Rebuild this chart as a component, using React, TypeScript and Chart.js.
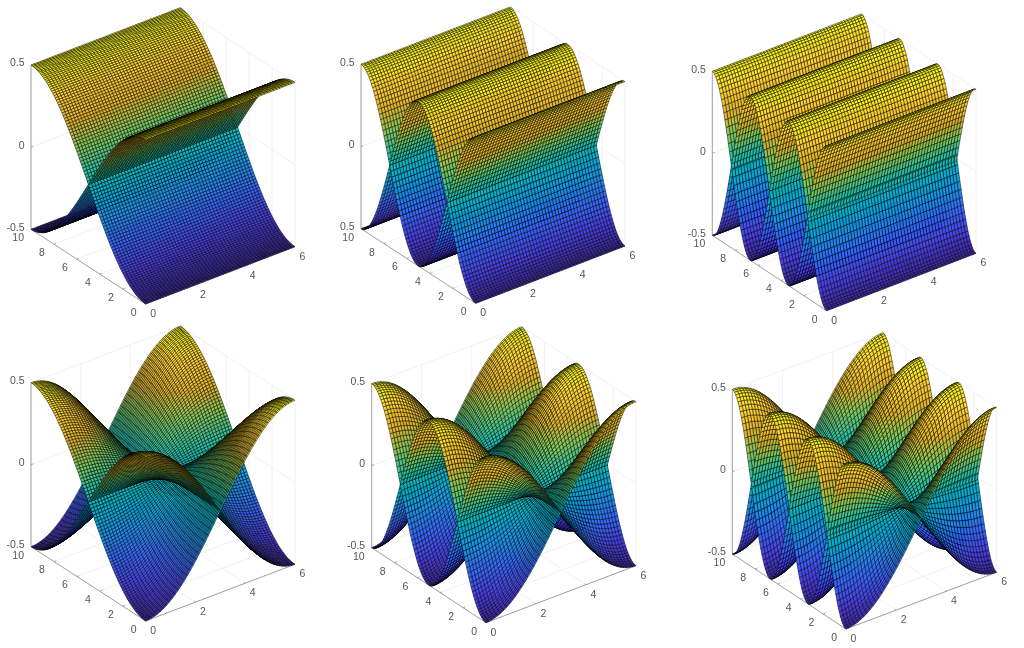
import React, { useEffect, useRef } from "react";
import { Chart, registerables } from "chart.js";

Chart.register(...registerables);

// Height of the upper sheet along y (one value per 0.1 of y), read per mode.
const waveY1 = [0.5,0.4998,0.499,0.4978,0.4961,0.4938,0.4911,0.488,0.4843,0.4801,0.4755,0.4704,0.4649,0.4589,0.4524,0.4455,0.4382,0.4304,0.4222,0.4136,0.4045,0.3951,0.3853,0.3751,0.3645,0.3536,0.3423,0.3307,0.3187,0.3065,0.2939,0.2811,0.2679,0.2545,0.2409,0.227,0.2129,0.1986,0.184,0.1694,0.1545,0.1395,0.1243,0.1091,0.0937,0.0782,0.0627,0.047,0.0314,0.0157,0,-0.0157,-0.0314,-0.047,-0.0627,-0.0782,-0.0937,-0.1091,-0.1243,-0.1395,-0.1545,-0.1694,-0.184,-0.1986,-0.2129,-0.227,-0.2409,-0.2545,-0.2679,-0.2811,-0.2939,-0.3065,-0.3187,-0.3307,-0.3423,-0.3536,-0.3645,-0.3751,-0.3853,-0.3951,-0.4045,-0.4136,-0.4222,-0.4304,-0.4382,-0.4455,-0.4524,-0.4589,-0.4649,-0.4704,-0.4755,-0.4801,-0.4843,-0.488,-0.4911,-0.4938,-0.4961,-0.4978,-0.499,-0.4998,-0.5];
const waveY2 = [0.5,0.499,0.4961,0.4911,0.4843,0.4755,0.4649,0.4524,0.4382,0.4222,0.4045,0.3853,0.3645,0.3423,0.3187,0.2939,0.2679,0.2409,0.2129,0.184,0.1545,0.1243,0.0937,0.0627,0.0314,0,-0.0314,-0.0627,-0.0937,-0.1243,-0.1545,-0.184,-0.2129,-0.2409,-0.2679,-0.2939,-0.3187,-0.3423,-0.3645,-0.3853,-0.4045,-0.4222,-0.4382,-0.4524,-0.4649,-0.4755,-0.4843,-0.4911,-0.4961,-0.499,-0.5,-0.499,-0.4961,-0.4911,-0.4843,-0.4755,-0.4649,-0.4524,-0.4382,-0.4222,-0.4045,-0.3853,-0.3645,-0.3423,-0.3187,-0.2939,-0.2679,-0.2409,-0.2129,-0.184,-0.1545,-0.1243,-0.0937,-0.0627,-0.0314,0,0.0314,0.0627,0.0937,0.1243,0.1545,0.184,0.2129,0.2409,0.2679,0.2939,0.3187,0.3423,0.3645,0.3853,0.4045,0.4222,0.4382,0.4524,0.4649,0.4755,0.4843,0.4911,0.4961,0.499,0.5];
const waveY3 = [0.5,0.4978,0.4911,0.4801,0.4649,0.4455,0.4222,0.3951,0.3645,0.3307,0.2939,0.2545,0.2129,0.1694,0.1243,0.0782,0.0314,-0.0157,-0.0627,-0.1091,-0.1545,-0.1986,-0.2409,-0.2811,-0.3187,-0.3536,-0.3853,-0.4136,-0.4382,-0.4589,-0.4755,-0.488,-0.4961,-0.4998,-0.499,-0.4938,-0.4843,-0.4704,-0.4524,-0.4304,-0.4045,-0.3751,-0.3423,-0.3065,-0.2679,-0.227,-0.184,-0.1395,-0.0937,-0.047,0,0.047,0.0937,0.1395,0.184,0.227,0.2679,0.3065,0.3423,0.3751,0.4045,0.4304,0.4524,0.4704,0.4843,0.4938,0.499,0.4998,0.4961,0.488,0.4755,0.4589,0.4382,0.4136,0.3853,0.3536,0.3187,0.2811,0.2409,0.1986,0.1545,0.1091,0.0627,0.0157,-0.0314,-0.0782,-0.1243,-0.1694,-0.2129,-0.2545,-0.2939,-0.3307,-0.3645,-0.3951,-0.4222,-0.4455,-0.4649,-0.4801,-0.4911,-0.4978,-0.5];

// Relative amplitude across x (one value per 0.12 of x).
const shapeXFlat = [1,1,1,1,1,1,1,1,1,1,1,1,1,1,1,1,1,1,1,1,1,1,1,1,1,1,1,1,1,1,1,1,1,1,1,1,1,1,1,1,1,1,1,1,1,1,1,1,1,1,1];
const shapeXHalf = [1,0.998,0.9921,0.9823,0.9686,0.9511,0.9298,0.9048,0.8763,0.8443,0.809,0.7705,0.729,0.6845,0.6374,0.5878,0.5358,0.4818,0.4258,0.3681,0.309,0.2487,0.1874,0.1253,0.0628,0,-0.0628,-0.1253,-0.1874,-0.2487,-0.309,-0.3681,-0.4258,-0.4818,-0.5358,-0.5878,-0.6374,-0.6845,-0.729,-0.7705,-0.809,-0.8443,-0.8763,-0.9048,-0.9298,-0.9511,-0.9686,-0.9823,-0.9921,-0.998,-1];

const xTicks = [0, 2, 4, 6];
const yTicks = [0, 2, 4, 6, 8, 10];
const zTicks = [-0.5, 0, 0.5];

const X_MAX = 6;
const Y_MAX = 10;
const X_STEP = 0.12;
const Y_STEP = 0.1;

const parulaStops = [
  [0.2422, 0.1504, 0.6603],
  [0.2803, 0.2482, 0.9221],
  [0.2, 0.3958, 0.9988],
  [0.104, 0.5602, 0.9218],
  [0.0, 0.6882, 0.8163],
  [0.1638, 0.7558, 0.6251],
  [0.5044, 0.7793, 0.348],
  [0.8834, 0.7006, 0.1596],
  [0.9992, 0.8136, 0.1885],
  [0.9869, 0.9839, 0.0805],
];

const layouts = [
  { left: 0, top: 0, width: 340, height: 324, near: [145.7, 304], right: [295, 246.7], back: [31, 229.3], topY: 65, waveY: waveY1, shapeX: shapeXFlat },
  { left: 340, top: 0, width: 340, height: 324, near: [475.7, 303.3], right: [625, 246], back: [361, 228.7], topY: 64.3, waveY: waveY2, shapeX: shapeXFlat },
  { left: 680, top: 0, width: 344, height: 324, near: [826.7, 310.7], right: [976, 253.3], back: [712.3, 235.3], topY: 71.3, waveY: waveY3, shapeX: shapeXFlat },
  { left: 0, top: 324, width: 340, height: 324, near: [145.7, 621], right: [295, 564.3], back: [31, 546.7], topY: 382.7, waveY: waveY1, shapeX: shapeXHalf },
  { left: 340, top: 324, width: 340, height: 324, near: [486, 622.7], right: [636, 565.7], back: [371.7, 547.7], topY: 383.7, waveY: waveY2, shapeX: shapeXHalf },
  { left: 680, top: 324, width: 344, height: 324, near: [846, 629], right: [996.7, 572.3], back: [732.3, 554], topY: 389.3, waveY: waveY3, shapeX: shapeXHalf },
];

type Layout = (typeof layouts)[number];

function parula(z: number) {
  const t = Math.max(0, Math.min(1, z + 0.5)) * (parulaStops.length - 1);
  const i = Math.min(parulaStops.length - 2, Math.floor(t));
  const f = t - i;
  const c = parulaStops[i].map((v, k) => Math.round(255 * (v + (parulaStops[i + 1][k] - v) * f)));
  return `rgb(${c[0]},${c[1]},${c[2]})`;
}

function makeProjector(p: Layout) {
  const ax = [p.right[0] - p.near[0], p.right[1] - p.near[1]];
  const ay = [p.back[0] - p.near[0], p.back[1] - p.near[1]];
  const hz = p.topY - p.back[1];
  const a = [ax[0], ay[0], 0];
  const b = [ax[1], ay[1], hz];
  const d = [a[1] * b[2] - a[2] * b[1], a[2] * b[0] - a[0] * b[2], a[0] * b[1] - a[1] * b[0]];
  return (x: number, y: number, z: number) => {
    const t = x / X_MAX;
    const s = y / Y_MAX;
    const h = z + 0.5;
    return {
      x: p.near[0] + t * ax[0] + s * ay[0] - p.left,
      y: p.near[1] + t * ax[1] + s * ay[1] + h * hz - p.top,
      depth: d[0] * t + d[1] * s + d[2] * h,
    };
  };
}

function segments(list: number[][][], project: ReturnType<typeof makeProjector>) {
  const out: { x: number; y: number }[] = [];
  list.forEach(([a, b]) => {
    const pa = project(a[0], a[1], a[2]);
    const pb = project(b[0], b[1], b[2]);
    out.push({ x: pa.x, y: pa.y }, { x: pb.x, y: pb.y }, { x: NaN, y: NaN });
  });
  return out;
}

const surfacePlugin = {
  id: "surfacePlugin",
  afterDatasetsDraw(chart: any) {
    const { ctx, scales } = chart;
    const rows = chart.options.plugins.surfacePlugin.rows as number;
    const cols = chart.options.plugins.surfacePlugin.cols as number;
    const quads: any[] = [];
    chart.data.datasets.forEach((ds: any) => {
      if (!ds.isSheet) return;
      const d = ds.data;
      for (let j = 0; j < rows - 1; j++) {
        for (let i = 0; i < cols - 1; i++) {
          const a = d[j * cols + i];
          const b = d[j * cols + i + 1];
          const c = d[(j + 1) * cols + i + 1];
          const e = d[(j + 1) * cols + i];
          quads.push({
            a, b, c, e,
            depth: (a.depth + b.depth + c.depth + e.depth) / 4,
            z: (a.z + b.z + c.z + e.z) / 4,
          });
        }
      }
    });
    quads.sort((p, q) => q.depth - p.depth);
    const sx = scales.x;
    const sy = scales.y;
    ctx.save();
    ctx.lineWidth = 0.48;
    ctx.lineJoin = "round";
    ctx.strokeStyle = "#000000";
    for (const q of quads) {
      ctx.beginPath();
      ctx.moveTo(sx.getPixelForValue(q.a.x), sy.getPixelForValue(q.a.y));
      ctx.lineTo(sx.getPixelForValue(q.b.x), sy.getPixelForValue(q.b.y));
      ctx.lineTo(sx.getPixelForValue(q.c.x), sy.getPixelForValue(q.c.y));
      ctx.lineTo(sx.getPixelForValue(q.e.x), sy.getPixelForValue(q.e.y));
      ctx.closePath();
      ctx.fillStyle = parula(q.z);
      ctx.fill();
      ctx.stroke();
    }
    ctx.restore();
  },
  afterDraw(chart: any) {
    const { ctx, scales } = chart;
    const labels = chart.options.plugins.surfacePlugin.labels as any[];
    ctx.save();
    ctx.font = '10.5px "Liberation Sans", Arial, sans-serif';
    ctx.fillStyle = "#555555";
    ctx.textBaseline = "middle";
    labels.forEach((l) => {
      ctx.textAlign = l.align;
      ctx.fillText(l.text, scales.x.getPixelForValue(l.x) + l.dx, scales.y.getPixelForValue(l.y) + l.dy);
    });
    ctx.restore();
  },
};

function Panel({ layout }: { layout: Layout }) {
  const ref = useRef<HTMLCanvasElement>(null);
  useEffect(() => {
    if (!ref.current) return;
    const project = makeProjector(layout);
    const makeSheet = (sign: number) => {
      const pts: any[] = [];
      layout.waveY.forEach((wy, j) => {
        layout.shapeX.forEach((sx, i) => {
          const z = sign * wy * sx;
          const p = project(i * X_STEP, j * Y_STEP, z);
          pts.push({ x: p.x, y: p.y, z, depth: p.depth });
        });
      });
      return pts;
    };
    const grid: number[][][] = [];
    xTicks.forEach((x) => {
      grid.push([[x, 0, -0.5], [x, Y_MAX, -0.5]]);
      grid.push([[x, Y_MAX, -0.5], [x, Y_MAX, 0.5]]);
    });
    yTicks.forEach((y) => {
      grid.push([[0, y, -0.5], [X_MAX, y, -0.5]]);
      grid.push([[X_MAX, y, -0.5], [X_MAX, y, 0.5]]);
    });
    zTicks.forEach((z) => {
      grid.push([[0, Y_MAX, z], [X_MAX, Y_MAX, z]]);
      grid.push([[X_MAX, Y_MAX, z], [X_MAX, 0, z]]);
    });
    const axes: number[][][] = [
      [[0, 0, -0.5], [X_MAX, 0, -0.5]],
      [[0, 0, -0.5], [0, Y_MAX, -0.5]],
      [[0, Y_MAX, -0.5], [0, Y_MAX, 0.5]],
    ];
    xTicks.forEach((x) => axes.push([[x, 0, -0.5], [x, 0.12, -0.5]]));
    yTicks.forEach((y) => axes.push([[0, y, -0.5], [0.08, y, -0.5]]));
    zTicks.forEach((z) => axes.push([[0, Y_MAX, z], [0.09, Y_MAX, z]]));

    const labels: any[] = [];
    xTicks.forEach((x) => {
      const p = project(x, 0, -0.5);
      labels.push({ text: String(x), x: p.x, y: p.y, dx: 7.5, dy: 10, align: "center" });
    });
    yTicks.forEach((y) => {
      const p = project(0, y, -0.5);
      labels.push({ text: String(y), x: p.x, y: p.y, dx: y === 10 ? -7 : -9, dy: 9, align: "right" });
    });
    zTicks.forEach((z) => {
      const p = project(0, Y_MAX, z);
      labels.push({ text: String(z), x: p.x, y: p.y, dx: -6.5, dy: -1.5, align: "right" });
    });

    const chart = new Chart(ref.current, {
      type: "scatter",
      data: {
        datasets: [
          { label: "upper", data: makeSheet(1), isSheet: true, showLine: false, pointRadius: 0 } as any,
          { label: "lower", data: makeSheet(-1), isSheet: true, showLine: false, pointRadius: 0 } as any,
          { label: "axes", data: segments(axes, project), showLine: true, pointRadius: 0, borderColor: "#999999", borderWidth: 0.9, spanGaps: false, order: 1 } as any,
          { label: "grid", data: segments(grid, project), showLine: true, pointRadius: 0, borderColor: "#efefef", borderWidth: 0.9, spanGaps: false, order: 2 } as any,
        ],
      },
      options: {
        animation: false,
        responsive: false,
        devicePixelRatio: 1,
        events: [],
        layout: { padding: 0 },
        scales: {
          x: { type: "linear", min: 0, max: layout.width, display: false },
          y: { type: "linear", min: 0, max: layout.height, reverse: true, display: false },
        },
        plugins: {
          legend: { display: false },
          tooltip: { enabled: false },
          surfacePlugin: { rows: layout.waveY.length, cols: layout.shapeX.length, labels },
        } as any,
      },
      plugins: [surfacePlugin],
    });
    return () => chart.destroy();
  }, [layout]);
  return (
    <canvas
      ref={ref}
      width={layout.width}
      height={layout.height}
      style={{ position: "absolute", left: layout.left, top: layout.top, width: layout.width, height: layout.height }}
    />
  );
}

export default function App() {
  return (
    <div style={{ position: "fixed", left: 0, top: 0, width: 1024, height: 648, background: "#ffffff", overflow: "hidden" }}>
      {layouts.map((l, i) => (
        <Panel key={i} layout={l} />
      ))}
    </div>
  );
}
